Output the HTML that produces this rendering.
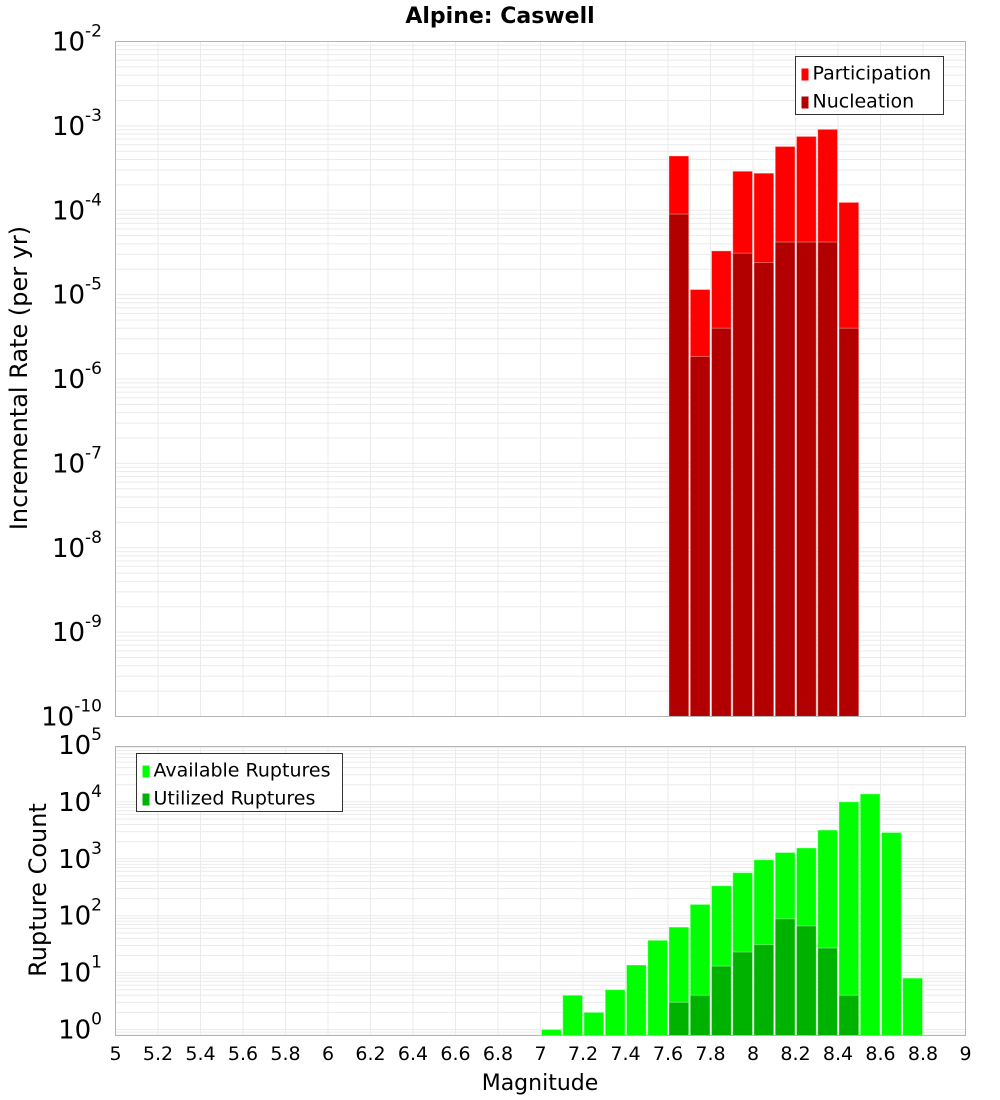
<!DOCTYPE html>
<html><head><meta charset="utf-8"><style>
body{margin:0;background:#fff;}
svg{display:block;font-family:"DejaVu Sans","Liberation Sans",sans-serif;}
</style></head><body>
<svg id="chart" width="1000" height="1100">
<text x="500" y="23" text-anchor="middle" font-size="22" font-weight="bold">Alpine: Caswell</text>
<g id="top"></g><g id="bot"></g>
<text transform="translate(27,378) rotate(-90)" text-anchor="middle" font-size="24">Incremental Rate (per yr)</text>
<text transform="translate(46,890) rotate(-90)" text-anchor="middle" font-size="24">Rupture Count</text>
<text x="540" y="1090" text-anchor="middle" font-size="22">Magnitude</text>
</svg>
<script>
const topMags=[7.65,7.75,7.85,7.95,8.05,8.15,8.25,8.35,8.45];
const participation=[4.4e-4,1.15e-5,3.3e-5,2.9e-4,2.75e-4,5.7e-4,7.5e-4,9.1e-4,1.24e-4];
const nucleation=[9e-5,1.85e-6,4e-6,3.1e-5,2.4e-5,4.2e-5,4.2e-5,4.2e-5,4e-6];
const botMags=[7.05,7.15,7.25,7.35,7.45,7.55,7.65,7.75,7.85,7.95,8.05,8.15,8.25,8.35,8.45,8.55,8.65,8.75];
const available=[1,4,2,5,13.6,37,63,158,336,570,960,1290,1550,3200,10000,13800,2900,8];
const utilized=[0,0,0,0,0,0,3,4,13,23,31,88,66,27,4,0,0,0];
const xTicks=[5,5.2,5.4,5.6,5.8,6,6.2,6.4,6.6,6.8,7,7.2,7.4,7.6,7.8,8,8.2,8.4,8.6,8.8,9];
const topExps=[-2,-3,-4,-5,-6,-7,-8,-9,-10];
const botExps=[0,1,2,3,4,5];
const NS="http://www.w3.org/2000/svg";
const X0=115.5,X1=965.5;
function sx(m){return X0+(m-5)/4*(X1-X0);}
function tY(v){return 41.5+(-2-Math.log10(v))*84.375;}
function bY(v){return 1029.5-Math.log10(v)*56.9;}
function mk(p,t,a){const e=document.createElementNS(NS,t);for(const k in a)e.setAttribute(k,a[k]);p.appendChild(e);return e;}
function panel(g,y0,y1,yf,lo,hi,exps,name){
  for(let d=lo;d<hi;d++)for(let k=1;k<10;k++){const v=k*Math.pow(10,d);const y=yf(v);if(y<y0||y>y1)continue;
    const l=mk(g,'line',{x1:X0,x2:X1,y1:y,y2:y,stroke:'#ebebeb','stroke-width':1});
    
    }
  xTicks.forEach(t=>{const l=mk(g,'line',{x1:sx(t),x2:sx(t),y1:y0,y2:y1,stroke:'#ebebeb','stroke-width':1});
    
    });
  exps.forEach(e=>{const y=yf(Math.pow(10,e));const t=mk(g,'text',{x:102,y:y+9,'text-anchor':'end','font-size':26});
    
    
    t.textContent='10';const s=mk(t,'tspan',{dy:-14,'font-size':17});s.textContent=String(e);});
}
function bar(g,m,v,yf,yb,fill,name){const y=yf(v);const r=mk(g,'rect',{x:sx(m-0.05)+1,y:y,width:sx(m+0.05)-sx(m-0.05)-1.5,height:yb-y,fill:fill,stroke:'rgba(255,255,255,0.35)','stroke-width':1});
  
  }
const gt=document.getElementById('top'),gb=document.getElementById('bot');
panel(gt,41.5,716.5,tY,-10,-2,topExps,'top');
topMags.forEach((m,i)=>{bar(gt,m,participation[i],tY,716.5,'#ff0000','participation-bar');bar(gt,m,nucleation[i],tY,716.5,'#b20000','nucleation-bar');});
mk(gt,'rect',{x:X0,y:41.5,width:X1-X0,height:675,fill:'none',stroke:'#b4b4b4'});
panel(gb,746.5,1035.5,bY,-1,5,botExps,'bottom');
botMags.forEach((m,i)=>{bar(gb,m,available[i],bY,1035.5,'#00ff00','available-bar');if(utilized[i]>0)bar(gb,m,utilized[i],bY,1035.5,'#00b200','utilized-bar');});
mk(gb,'rect',{x:X0,y:746.5,width:X1-X0,height:289,fill:'none',stroke:'#b4b4b4'});
xTicks.forEach(t=>{const tx=mk(gb,'text',{x:sx(t),y:1060,'text-anchor':'middle','font-size':19});
  
  
  tx.textContent=String(t);});
function legend(g,x,y,w,items,name){const b=mk(g,'rect',{x:x,y:y,width:w,height:58,fill:'#fff',stroke:'#333'});
  
  
  items.forEach((it,i)=>{mk(g,'rect',{x:x+6,y:y+12+i*28,width:7,height:12,fill:it[1]});
    const t=mk(g,'text',{x:x+17,y:y+23+i*28,'font-size':19});
    
    
    t.textContent=it[0];});}
legend(gt,795.5,56.5,148,[['Participation','#ff0000'],['Nucleation','#b20000']],'top-legend');
legend(gb,136.5,753.5,206,[['Available Ruptures','#00ff00'],['Utilized Ruptures','#00b200']],'bottom-legend');
</script>
</body></html>
